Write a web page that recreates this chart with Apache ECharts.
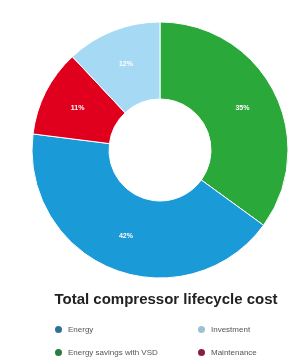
<!DOCTYPE html>
<html>
<head>
<meta charset="utf-8">
<script src="https://cdn.jsdelivr.net/npm/echarts@6/dist/echarts.min.js"></script>
<style>
	html,body{margin:0;padding:0;background:#fff;}
	#chart{width:288px;height:364px;}
</style>
</head>
<body>
<div id="chart"></div>
<script>
// slice order clockwise from 12 o'clock
var names = ['Energy savings with VSD', 'Energy', 'Maintenance', 'Investment'];
var values = [35, 42, 11, 12];
var labels = ['35%', '42%', '11%', '12%'];
var sliceColors = ['#2aa83a', '#1a9ad6', '#e0001e', '#a6daf4'];
// legend swatches are darker than the slices
var legendColors = {
	'Energy': '#2f7290',
	'Investment': '#9cc2d2',
	'Energy savings with VSD': '#2a7c42',
	'Maintenance': '#8c1c42'
};
var legendLeft = ['Energy', 'Energy savings with VSD'];
var legendRight = ['Investment', 'Maintenance'];

function legendData(list){
	return list.map(function(n){
		return {name: n, icon: 'circle', itemStyle: {color: legendColors[n]}};
	});
}

var pieData = names.map(function(n, i){
	return {
		name: n,
		value: values[i],
		itemStyle: {color: sliceColors[i]},
		label: {formatter: labels[i]}
	};
});

var legendBase = {
	orient: 'vertical',
	top: 319,
	itemWidth: 9,
	itemHeight: 9,
	itemGap: 12,
	textStyle: {fontSize: 8, color: '#555', fontFamily: 'Arial'}
};

var option = {
	backgroundColor: '#fff',
	animation: false,
	title: {
		text: 'Total compressor lifecycle cost',
		left: 161,
		textAlign: 'center',
		top: 287,
		textStyle: {fontSize: 15, fontWeight: 'bold', color: '#222', fontFamily: 'Arial'}
	},
	legend: [
		Object.assign({left: 48, data: legendData(legendLeft)}, legendBase),
		Object.assign({left: 191, data: legendData(legendRight)}, legendBase)
	],
	series: [{
		type: 'pie',
		center: [160, 150],
		radius: [51, 128],
		startAngle: 90,
		clockwise: true,
		itemStyle: {borderColor: '#fff', borderWidth: 1},
		label: {
			show: true,
			position: 'inside',
			color: '#fff',
			fontSize: 7,
			fontWeight: 'bold'
		},
		labelLine: {show: false},
		data: pieData
	}]
};

var chart = echarts.init(document.getElementById('chart'));
chart.setOption(option);
</script>
</body>
</html>
